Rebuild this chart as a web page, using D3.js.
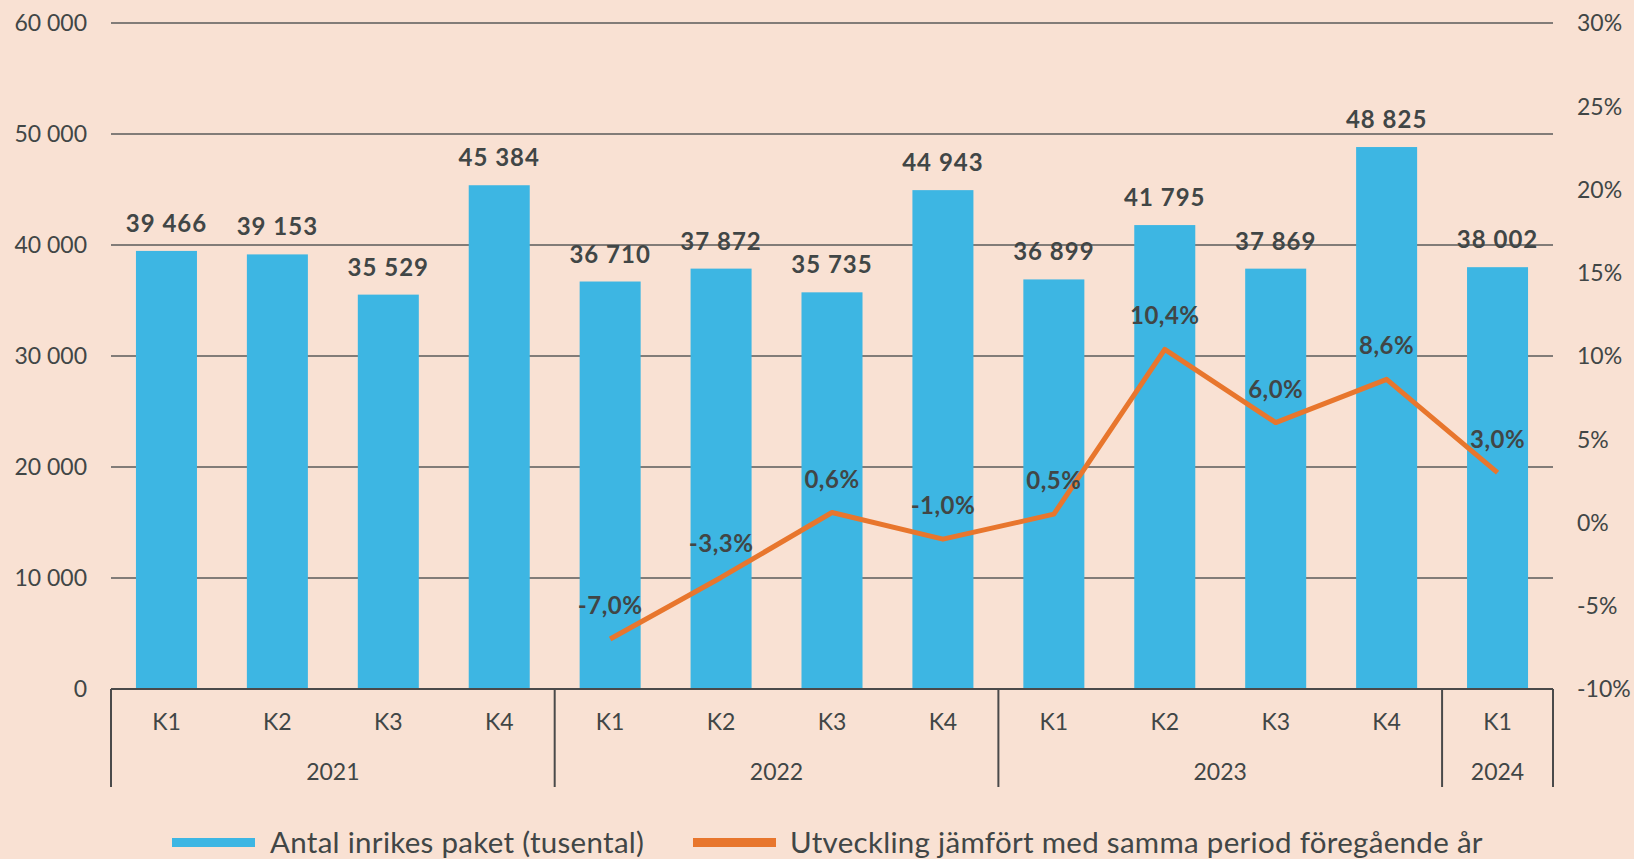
<!DOCTYPE html>
<html>
<head>
<meta charset="utf-8">
<script src="https://cdn.jsdelivr.net/npm/d3@7"></script>
<style>
  body { margin: 0; background: #f9e1d3; }
  svg { display: block; font-family: Lato, "Open Sans", sans-serif; }
</style>
</head>
<body>
<svg width="1634" height="859"></svg>
<script>
// data
let quarters = ["K1", "K2", "K3", "K4", "K1", "K2", "K3", "K4", "K1", "K2", "K3", "K4", "K1"];
let years = ["2021", "2021", "2021", "2021", "2022", "2022", "2022", "2022", "2023", "2023", "2023", "2023", "2024"];
let paket = [39466, 39153, 35529, 45384, 36710, 37872, 35735, 44943, 36899, 41795, 37869, 48825, 38002];
let utveckling = [null, null, null, null, -7.0, -3.3, 0.6, -1.0, 0.5, 10.4, 6.0, 8.6, 3.0];
let leftTicks = [0, 10000, 20000, 30000, 40000, 50000, 60000];
let rightTicks = [-10, -5, 0, 5, 10, 15, 20, 25, 30];

let textColor = "#414646";
let barColor = "#3db6e3";
let lineColor = "#e8762d";

let svg = d3.select("svg");
let plotLeft = 111, plotRight = 1553, plotTop = 23, plotBottom = 689;

let idx = quarters.map((d, i) => i);
let x = d3.scaleBand().domain(idx).range([plotLeft, plotRight]).paddingInner(0.45).paddingOuter(0.225);
let xc = i => x(i) + x.bandwidth() / 2;
let y = d3.scaleLinear().domain([0, 60000]).range([plotBottom, plotTop]);
let y2 = d3.scaleLinear().domain([-10, 30]).range([plotBottom, plotTop]);

let fmt = v => d3.format(",")(v).replace(/,/g, " ");
let pct = v => v.toFixed(1).replace(".", ",") + "%";

// gridlines
svg.append("g").selectAll("line")
  .data(leftTicks.filter(d => d > 0))
  .enter().append("line")
  .attr("x1", plotLeft).attr("x2", plotRight)
  .attr("y1", d => y(d)).attr("y2", d => y(d))
  .attr("stroke", "#5a5a5a").attr("stroke-width", 1.3);

// left axis labels
svg.append("g").selectAll("text")
  .data(leftTicks).enter().append("text")
  .attr("x", 87).attr("y", d => y(d)).attr("dy", "0.36em")
  .attr("text-anchor", "end").attr("font-size", 23).attr("fill", textColor)
  .text(d => fmt(d));

// right axis labels
svg.append("g").selectAll("text")
  .data(rightTicks).enter().append("text")
  .attr("x", 1577).attr("y", d => y2(d)).attr("dy", "0.36em")
  .attr("text-anchor", "start").attr("font-size", 23).attr("fill", textColor)
  .text(d => d + "%");

// bars
svg.append("g").selectAll("rect")
  .data(paket).enter().append("rect")
  .attr("x", (d, i) => x(i)).attr("width", x.bandwidth())
  .attr("y", d => y(d)).attr("height", d => plotBottom - y(d))
  .attr("fill", barColor);

// bar labels
svg.append("g").selectAll("text")
  .data(paket).enter().append("text")
  .attr("x", (d, i) => xc(i)).attr("y", d => y(d) - 19)
  .attr("text-anchor", "middle").attr("font-size", 24).attr("font-weight", "bold")
  .attr("letter-spacing", 1)
  .attr("fill", textColor)
  .text(d => fmt(d));

// category axis
let step = x.step();
svg.append("line")
  .attr("x1", plotLeft).attr("x2", plotRight).attr("y1", plotBottom).attr("y2", plotBottom)
  .attr("stroke", "#4a4a4a").attr("stroke-width", 2);

let yearGroups = d3.groups(idx, i => years[i]);
let seps = [plotLeft].concat(yearGroups.map(g => plotLeft + (g[1][g[1].length - 1] + 1) * step));
svg.append("g").selectAll("line")
  .data(seps).enter().append("line")
  .attr("x1", d => d).attr("x2", d => d).attr("y1", plotBottom).attr("y2", 787)
  .attr("stroke", "#4a4a4a").attr("stroke-width", 2);

svg.append("g").selectAll("text")
  .data(quarters).enter().append("text")
  .attr("x", (d, i) => xc(i)).attr("y", 722).attr("dy", "0.36em")
  .attr("text-anchor", "middle").attr("font-size", 23).attr("fill", textColor)
  .text(d => d);

svg.append("g").selectAll("text")
  .data(yearGroups).enter().append("text")
  .attr("x", g => plotLeft + (g[1][0] + g[1][g[1].length - 1] + 1) / 2 * step)
  .attr("y", 772).attr("dy", "0.36em")
  .attr("text-anchor", "middle").attr("font-size", 23).attr("fill", textColor)
  .text(g => g[0]);

// line
let linePts = utveckling.map((v, i) => [i, v]).filter(d => d[1] !== null);
svg.append("path")
  .datum(linePts)
  .attr("d", d3.line().x(d => xc(d[0])).y(d => y2(d[1])))
  .attr("fill", "none").attr("stroke", lineColor).attr("stroke-width", 5)
  .attr("stroke-linejoin", "round");

svg.append("g").selectAll("text")
  .data(linePts).enter().append("text")
  .attr("x", d => xc(d[0])).attr("y", d => y2(d[1]) - 25)
  .attr("text-anchor", "middle").attr("font-size", 24).attr("font-weight", "bold")
  .attr("letter-spacing", 0.5)
  .attr("fill", textColor)
  .text(d => pct(d[1]));

// legend
let legend = svg.append("g");
legend.append("rect").attr("x", 172).attr("y", 838).attr("width", 83).attr("height", 9).attr("fill", barColor);
legend.append("text").attr("x", 270).attr("y", 842).attr("dy", "0.36em")
  .attr("font-size", 29.5).attr("letter-spacing", 0.3).attr("fill", textColor).text("Antal inrikes paket (tusental)");
legend.append("rect").attr("x", 693).attr("y", 838).attr("width", 83).attr("height", 9).attr("fill", lineColor);
legend.append("text").attr("x", 790).attr("y", 842).attr("dy", "0.36em")
  .attr("font-size", 29.5).attr("letter-spacing", 0.3).attr("fill", textColor).text("Utveckling jämfört med samma period föregående år");
</script>
</body>
</html>
